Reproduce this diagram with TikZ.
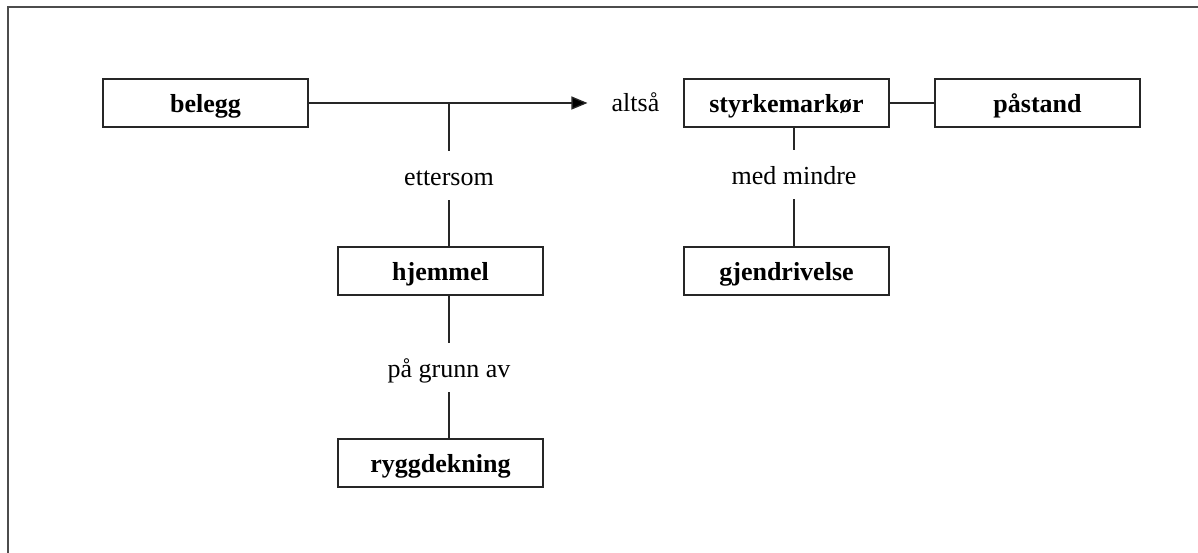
\documentclass[tikz,border=0pt]{standalone}
\usepackage{fontspec}
\setmainfont{Liberation Serif}
\usetikzlibrary{arrows.meta}
\begin{document}
\begin{tikzpicture}[x=1pt,y=-1pt,
  box/.style={draw=black!85,line width=1.3pt,minimum width=205pt,minimum height=48pt,inner sep=0pt,text height=19pt,text depth=0pt,font=\fontsize{26}{30}\selectfont\bfseries},
  lbl/.style={inner sep=0pt,minimum height=49pt,text height=20pt,text depth=0pt,font=\fontsize{26}{30}\selectfont},
  conn/.style={draw=black!85,line width=1.3pt}]
\useasboundingbox (0,0) rectangle (1198,553);
\begin{scope}
\clip (0,0) rectangle (1198,553);
\draw[line width=2pt,draw=black!70] (8,7.5) rectangle (1300,700);
\end{scope}
% boxes
\node[box] (bel) at (205.5,103) {belegg};
\node[box] (sty) at (786.5,103) {styrkemarkør};
\node[box] (pas) at (1037.5,103) {påstand};
\node[box] (hj) at (440.5,271) {hjemmel};
\node[box] (rygg) at (440.5,463) {ryggdekning};
\node[box] (gj) at (786.5,271) {gjendrivelse};
% labels
\node[lbl,inner xsep=24pt,minimum height=18pt,text height=18pt] (alt) at (635.5,103) {altså};
\node[lbl] (etter) at (449,175.5) {ettersom};
\node[lbl] (grunn) at (449,367.5) {på grunn av};
\node[lbl] (mm) at (794,174.5) {med mindre};
\coordinate (j1) at (449,103);
% connectors
\draw[conn,-{Triangle[length=16pt,width=13pt,fill=black]}] (bel.east) -- (alt.west);
\draw[conn] (j1) -- (etter.north);
\draw[conn] (etter.south) -- (etter.south |- hj.north);
\draw[conn] (hj.south -| grunn) -- (grunn.north);
\draw[conn] (grunn.south) -- (grunn.south |- rygg.north);
\draw[conn] (sty.east) -- (pas.west);
\draw[conn] (sty.south -| mm) -- (mm.north);
\draw[conn] (mm.south) -- (mm.south |- gj.north);
\end{tikzpicture}
\end{document}
